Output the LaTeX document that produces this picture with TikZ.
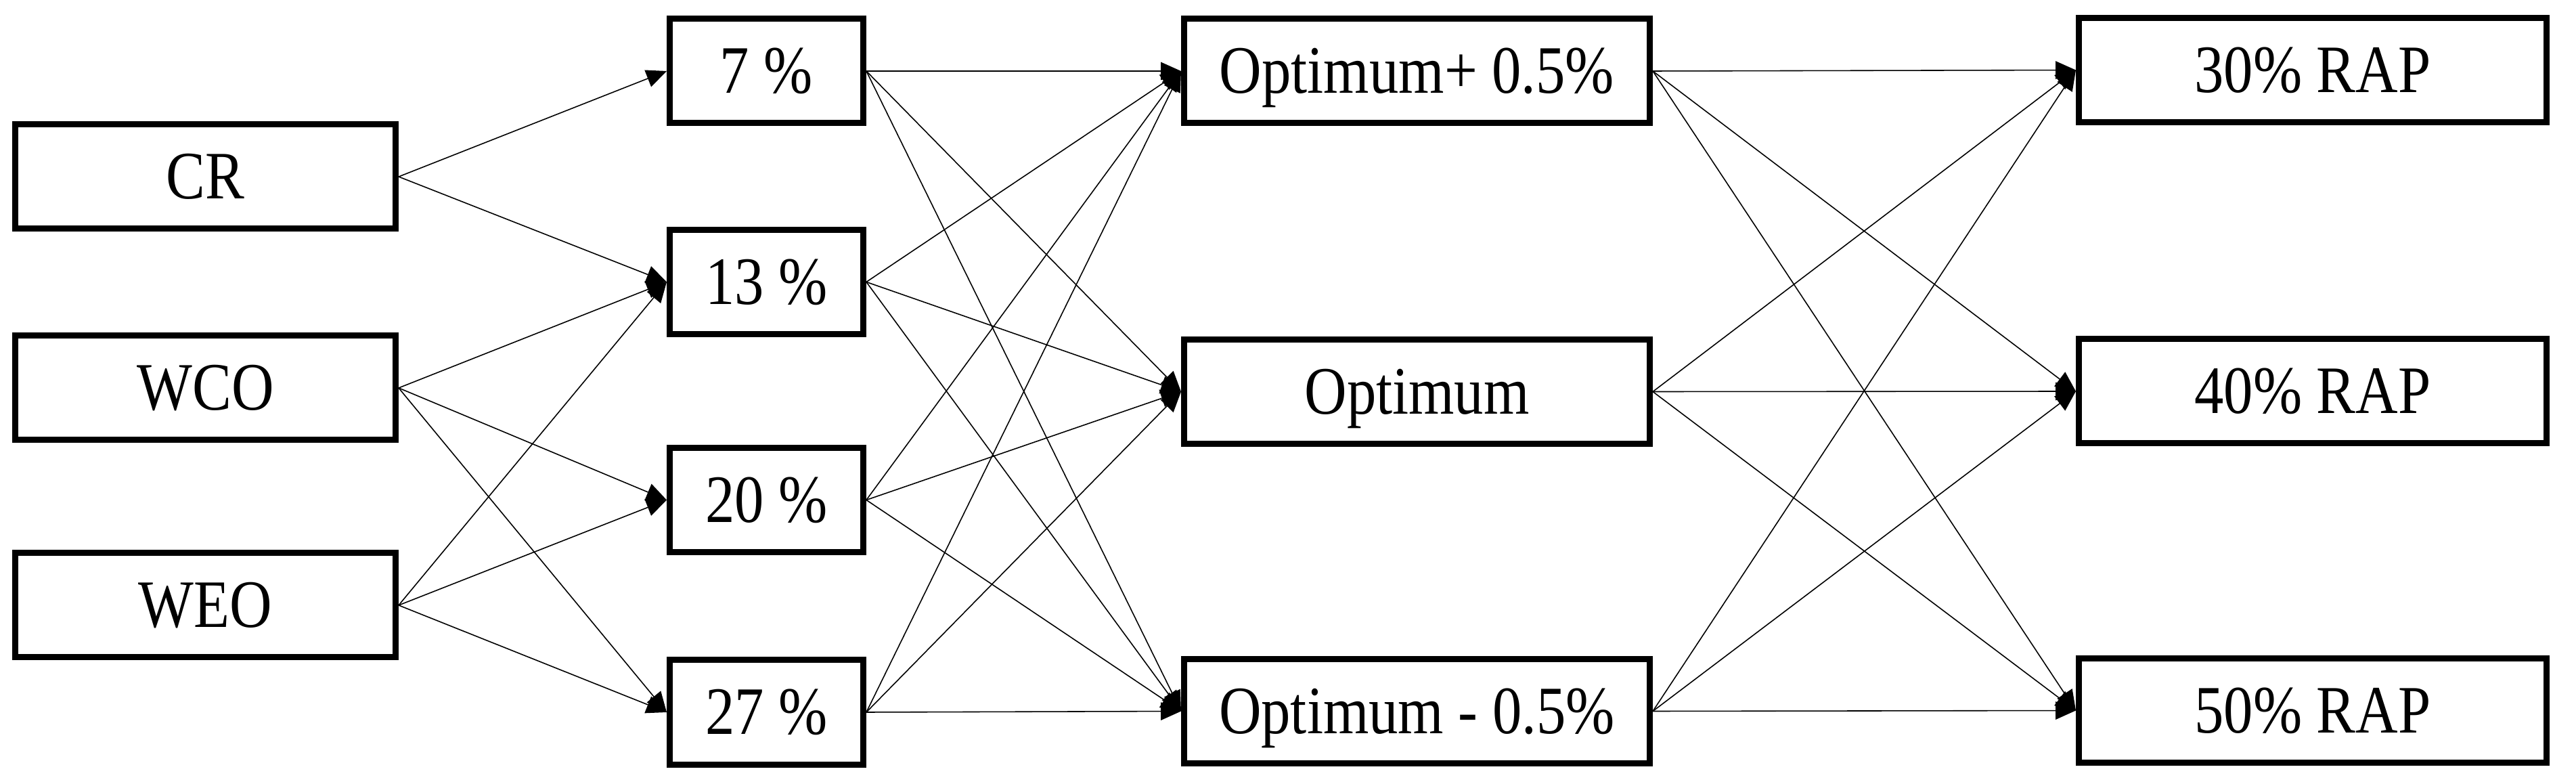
\documentclass[tikz,border=0pt]{standalone}
\usepackage{fontspec}
\setmainfont[FakeStretch=0.865]{Liberation Serif}
\usetikzlibrary{arrows.meta}

\begin{document}
\begin{tikzpicture}[
        box/.style={draw, rectangle, line width=0.09cm, minimum height=1.54cm,
            inner sep=0pt, text height=0.66cm, text depth=0pt,
            font=\fontsize{28.5}{34}\selectfont},
        link/.style={line width=0.45pt, -{Triangle[length=8.5pt, width=7.5pt]}}
    ]
        \useasboundingbox (0,0) rectangle (38.06,11.57);

        \node[box, minimum width=5.62cm] (cr) at (3.035,8.96) {CR};
        \node[box, minimum width=5.62cm] (wco) at (3.035,5.84) {WCO};
        \node[box, minimum width=5.62cm] (weo) at (3.035,2.63) {WEO};

        \node[box, minimum width=2.86cm] (p7) at (11.325,10.52) {7 \%};
        \node[box, minimum width=2.86cm] (p13) at (11.325,7.405) {13 \%};
        \node[box, minimum width=2.86cm] (p20) at (11.325,4.185) {20 \%};
        \node[box, minimum width=2.86cm] (p27) at (11.325,1.05) {27 \%};

        \node[box, minimum width=6.88cm] (optp) at (20.935,10.52) {Optimum+ 0.5\%};
        \node[box, minimum width=6.88cm] (opt) at (20.935,5.785) {Optimum};
        \node[box, minimum width=6.88cm] (optm) at (20.935,1.065) {Optimum - 0.5\%};

        \node[box, minimum width=6.91cm] (rap30) at (34.17,10.535) {30\% RAP};
        \node[box, minimum width=6.91cm] (rap40) at (34.17,5.79) {40\% RAP};
        \node[box, minimum width=6.91cm] (rap50) at (34.17,1.075) {50\% RAP};

        % oils to dosage
        \draw[link] (cr.east) -- (p7.west);
        \draw[link] (cr.east) -- (p13.west);
        \draw[link] (wco.east) -- (p13.west);
        \draw[link] (wco.east) -- (p20.west);
        \draw[link] (wco.east) -- (p27.west);
        \draw[link] (weo.east) -- (p13.west);
        \draw[link] (weo.east) -- (p20.west);
        \draw[link] (weo.east) -- (p27.west);

        % dosage to binder content
        \draw[link] (p7.east) -- (optp.west);
        \draw[link] (p7.east) -- (opt.west);
        \draw[link] (p7.east) -- (optm.west);
        \draw[link] (p13.east) -- (optp.west);
        \draw[link] (p13.east) -- (opt.west);
        \draw[link] (p13.east) -- (optm.west);
        \draw[link] (p20.east) -- (optp.west);
        \draw[link] (p20.east) -- (opt.west);
        \draw[link] (p20.east) -- (optm.west);
        \draw[link] (p27.east) -- (optp.west);
        \draw[link] (p27.east) -- (opt.west);
        \draw[link] (p27.east) -- (optm.west);

        % binder content to RAP
        \draw[link] (optp.east) -- (rap30.west);
        \draw[link] (optp.east) -- (rap40.west);
        \draw[link] (optp.east) -- (rap50.west);
        \draw[link] (opt.east) -- (rap30.west);
        \draw[link] (opt.east) -- (rap40.west);
        \draw[link] (opt.east) -- (rap50.west);
        \draw[link] (optm.east) -- (rap30.west);
        \draw[link] (optm.east) -- (rap40.west);
        \draw[link] (optm.east) -- (rap50.west);
    \end{tikzpicture}
\end{document}
